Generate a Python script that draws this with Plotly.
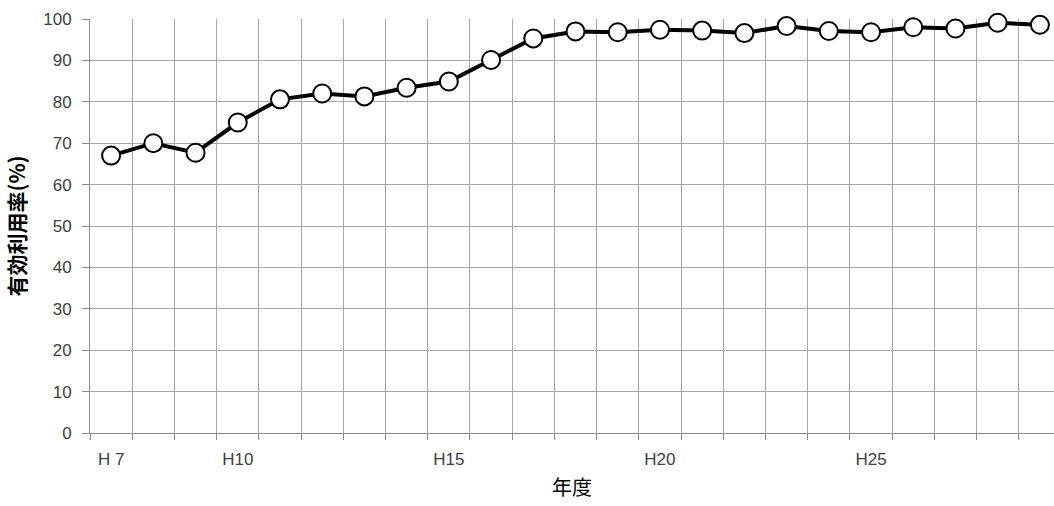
import plotly.graph_objects as go

years = ["H 7", "H8", "H9", "H10", "H11", "H12", "H13", "H14", "H15", "H16", "H17", "H18",
         "H19", "H20", "H21", "H22", "H23", "H24", "H25", "H26", "H27", "H28", "H29"]
rate = [67.0, 70.0, 67.7, 75.0, 80.6, 82.0, 81.3, 83.4, 84.9, 90.1, 95.3, 97.0,
        96.8, 97.4, 97.2, 96.6, 98.3, 97.1, 96.8, 98.0, 97.7, 99.1, 98.6]
shown_labels = ["H 7", "H10", "H15", "H20", "H25"]
tick_text = [y if y in shown_labels else "" for y in years]
y_ticks = list(range(0, 101, 10))

GRID = "#a6a6a6"
AXIS = "#8c8c8c"
TICK_FONT = dict(family="Liberation Sans, Arial, sans-serif", size=17, color="#404040")

fig = go.Figure()
fig.add_trace(go.Scatter(
    x=years, y=rate, mode="lines+markers",
    line=dict(color="black", width=4),
    marker=dict(size=18, color="white", line=dict(color="black", width=2)),
    cliponaxis=False, showlegend=False,
))

fig.update_layout(
    width=1054, height=506,
    margin=dict(l=90, r=0, t=19, b=73),
    paper_bgcolor="white", plot_bgcolor="white",
    xaxis=dict(
        type="category", tickmode="array", tickvals=years, ticktext=tick_text,
        tickson="boundaries", ticks="outside", ticklen=6, tickcolor=AXIS,
        ticklabelstandoff=11,
        showgrid=True, gridcolor=GRID, gridwidth=1,
        showline=True, linecolor=AXIS, linewidth=1,
        range=[-0.5, 22.334], tickfont=TICK_FONT, automargin=False,
        title=dict(text="年度", font=dict(family="Noto Sans CJK JP", size=20, color="black"), standoff=12),
        zeroline=False,
    ),
    yaxis=dict(
        range=[0, 100], tickmode="array", tickvals=y_ticks,
        ticks="outside", ticklen=7, tickcolor=AXIS,
        ticklabelstandoff=7,
        showgrid=True, gridcolor=GRID, gridwidth=1,
        showline=True, linecolor=AXIS, linewidth=1,
        tickfont=TICK_FONT, zeroline=False, automargin=False,
        title=dict(text="<b>有効利用率(%)</b>", font=dict(family="Noto Sans CJK JP", size=21, color="black"), standoff=11),
    ),
)

fig.write_html("out.html", config={"displayModeBar": False},
               post_script="document.body.style.margin='0';document.body.style.overflow='hidden';")
